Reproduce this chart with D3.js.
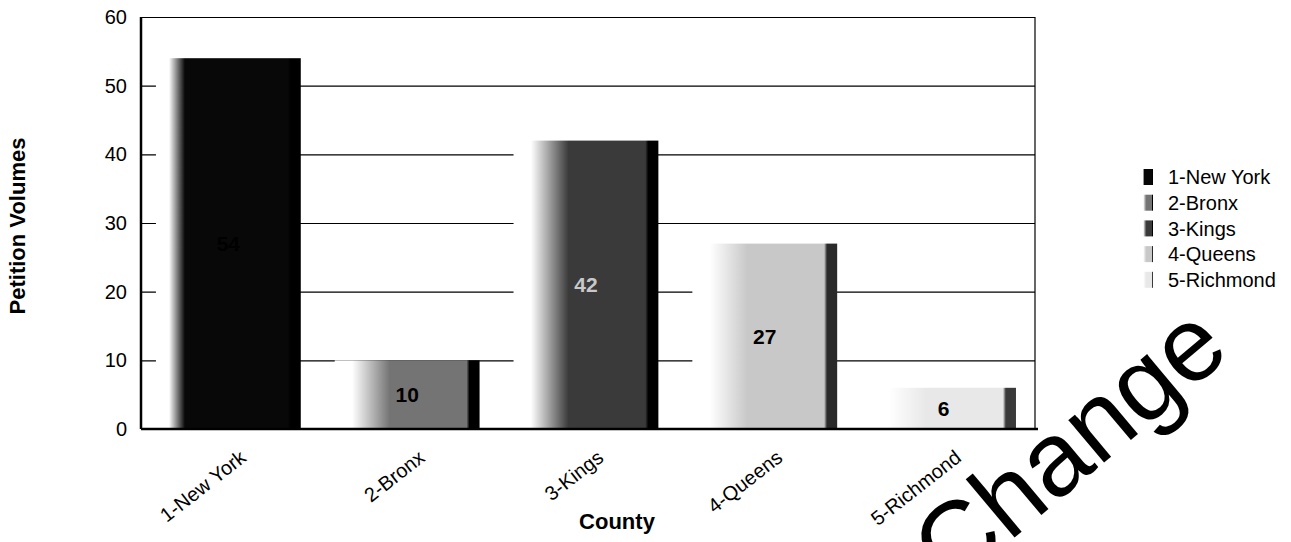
<!DOCTYPE html>
<html>
<head>
<meta charset="utf-8">
<script src="https://cdn.jsdelivr.net/npm/d3@7"></script>
<style>
  html, body { margin: 0; padding: 0; background: #fff; }
  svg { display: block; }
  text { font-family: "Liberation Sans", Arial, sans-serif; }
</style>
</head>
<body>
<svg id="chart" width="1291" height="542"></svg>
<script>
// county petition volumes
const counties = ["1-New York", "2-Bronx", "3-Kings", "4-Queens", "5-Richmond"];
const volumes = [54, 10, 42, 27, 6];
const yTicks = [0, 10, 20, 30, 40, 50, 60];

// grey shades of the scanned bars (body, right edge)
const barShades = ["#080808", "#747474", "#3a3a3a", "#c8c8c8", "#e8e8e8"];
const edgeShades = ["#000000", "#000000", "#000000", "#2a2a2a", "#3a3a3a"];
const labelShades = ["#000000", "#000000", "#c8c8c8", "#000000", "#000000"];

const svg = d3.select("#chart");
const plotL = 141, plotR = 1035, plotT = 17, plotB = 429;

const y = d3.scaleLinear().domain([0, 60]).range([plotB, plotT]);
const xStep = d3.scaleBand().domain(counties).range([plotL, plotR]).padding(0);
const xBar = d3.scaleBand().domain(counties).range([plotL, plotR])
    .paddingInner(0.19).paddingOuter(0.095).align(0.44);

// gradients, white on the left, shaded body, dark right edge
const defs = svg.append("defs");
counties.forEach(function (c, i) {
    var g = defs.append("linearGradient")
        .attr("id", "grad" + i)
        .attr("x1", "0%").attr("x2", "100%").attr("y1", "0%").attr("y2", "0%");
    g.append("stop").attr("offset", "0%").attr("stop-color", "#ffffff");
    g.append("stop").attr("offset", i == 0 ? "9%" : "12%").attr("stop-color", "#ffffff");
    g.append("stop").attr("offset", i == 0 ? "20%" : "38%").attr("stop-color", barShades[i]);
    g.append("stop").attr("offset", "91%").attr("stop-color", barShades[i]);
    g.append("stop").attr("offset", "93%").attr("stop-color", edgeShades[i]);
    g.append("stop").attr("offset", "100%").attr("stop-color", edgeShades[i]);
});

// gridlines + y labels
const yAxis = svg.append("g")
    .attr("transform", "translate(" + plotL + ",0)")
    .call(d3.axisLeft(y).tickValues(yTicks).tickSize(-(plotR - plotL)).tickPadding(14));
yAxis.select(".domain").remove();
yAxis.selectAll(".tick line").attr("stroke", "#000").attr("stroke-width", 1.2);
yAxis.selectAll(".tick text")
    .attr("font-size", 20)
    .attr("fill", "#000")
    .attr("font-family", "'Liberation Sans', Arial, sans-serif");

// right border
svg.append("line")
    .attr("x1", plotR).attr("x2", plotR).attr("y1", plotT).attr("y2", plotB)
    .attr("stroke", "#000").attr("stroke-width", 1.2);

// bars
svg.selectAll("rect.bar")
    .data(volumes)
    .enter()
    .append("rect")
    .attr("class", "bar")
    .attr("x", (d, i) => xBar(counties[i]))
    .attr("width", xBar.bandwidth())
    .attr("y", d => y(d))
    .attr("height", d => y(0) - y(d))
    .attr("fill", (d, i) => "url(#grad" + i + ")");

// value labels in the middle of each bar
svg.selectAll("text.val")
    .data(volumes)
    .enter()
    .append("text")
    .attr("class", "val")
    .attr("x", (d, i) => xBar(counties[i]) + xBar.bandwidth() / 2)
    .attr("y", d => (y(d) + y(0)) / 2)
    .attr("dy", "0.36em")
    .attr("text-anchor", "middle")
    .attr("font-size", 21)
    .attr("font-weight", "bold")
    .attr("fill", (d, i) => labelShades[i])
    .text(d => d);

// axis lines
svg.append("line")
    .attr("x1", plotL).attr("x2", plotL).attr("y1", plotT).attr("y2", plotB)
    .attr("stroke", "#000").attr("stroke-width", 2.5);
svg.append("line")
    .attr("x1", plotL).attr("x2", plotR + 3).attr("y1", plotB).attr("y2", plotB)
    .attr("stroke", "#000").attr("stroke-width", 2.5);

// category labels, rotated
const xAxis = svg.append("g")
    .attr("transform", "translate(0," + plotB + ")")
    .call(d3.axisBottom(xStep).tickSize(0).tickPadding(0));
xAxis.select(".domain").remove();
xAxis.selectAll(".tick text")
    .attr("font-size", 20)
    .attr("fill", "#000")
    .attr("font-family", "'Liberation Sans', Arial, sans-serif")
    .attr("text-anchor", "end")
    .attr("dy", 0)
    .attr("transform", "translate(17,31) rotate(-38)");

// axis titles
svg.append("text")
    .attr("transform", "translate(25,226) rotate(-90)")
    .attr("text-anchor", "middle")
    .attr("font-size", 22)
    .attr("font-weight", "bold")
    .text("Petition Volumes");

svg.append("text")
    .attr("x", 617)
    .attr("y", 529)
    .attr("text-anchor", "middle")
    .attr("font-size", 22)
    .attr("font-weight", "bold")
    .text("County");

// legend
const legend = svg.append("g").attr("transform", "translate(1142,177)");
const rows = legend.selectAll("g.row")
    .data(counties)
    .enter()
    .append("g")
    .attr("class", "row")
    .attr("transform", (d, i) => "translate(0," + (i * 25.7) + ")");
rows.append("rect")
    .attr("x", 0).attr("y", -8)
    .attr("width", 11).attr("height", 16)
    .attr("fill", (d, i) => "url(#grad" + i + ")");
rows.append("text")
    .attr("x", 26)
    .attr("dy", "0.36em")
    .attr("font-size", 20)
    .text(d => d);

// scanned watermark across the corner (cut by the page edge, as in the scan)
svg.append("text")
    .attr("transform", "translate(951,591) rotate(-40)")
    .attr("font-size", 105)
    .attr("fill", "#000")
    .text("Change");
</script>
</body>
</html>
